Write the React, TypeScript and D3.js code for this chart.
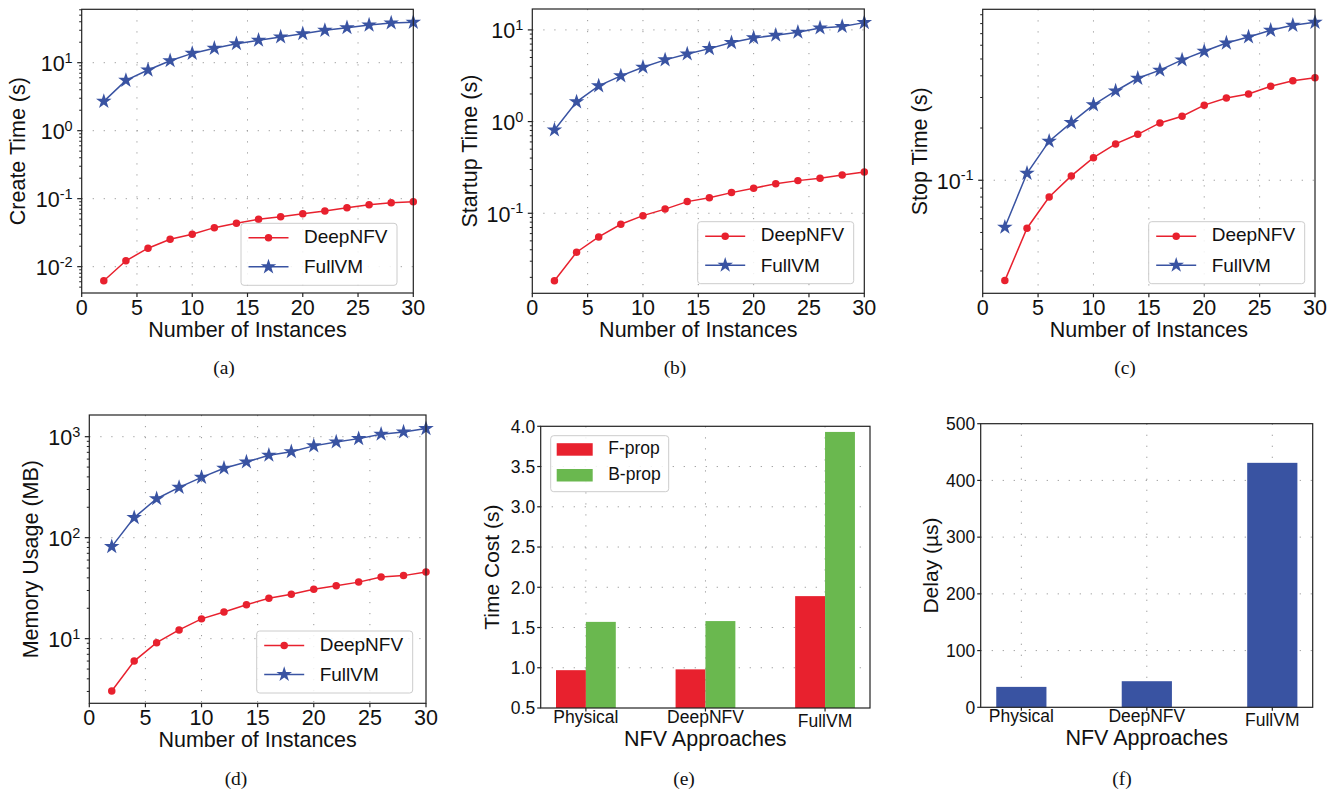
import React from "react";
import * as d3 from "d3";

// ---- data ----
const instances = [2, 4, 6, 8, 10, 12, 14, 16, 18, 20, 22, 24, 26, 28, 30];

const createDeep = [0.0062, 0.0122, 0.0187, 0.0253, 0.03, 0.0375, 0.0435, 0.0498, 0.0543, 0.06, 0.066, 0.0738, 0.0817, 0.0873, 0.09];
const createFull = [2.7, 5.5, 7.8, 10.7, 13.7, 16.3, 19.0, 21.4, 23.9, 26.7, 29.9, 32.7, 35.8, 38.4, 39.3];

const startupDeep = [0.0184, 0.0376, 0.0552, 0.0759, 0.0942, 0.111, 0.134, 0.148, 0.168, 0.1875, 0.21, 0.227, 0.241, 0.262, 0.282];
const startupFull = [0.81, 1.64, 2.45, 3.15, 3.92, 4.71, 5.47, 6.25, 7.27, 8.18, 8.75, 9.43, 10.5, 10.9, 12.0];

const stopDeep = [0.0264, 0.0529, 0.0801, 0.1059, 0.135, 0.162, 0.184, 0.214, 0.234, 0.271, 0.298, 0.314, 0.348, 0.375, 0.39];
const stopFull = [0.0536, 0.1097, 0.168, 0.215, 0.272, 0.327, 0.387, 0.431, 0.494, 0.554, 0.618, 0.67, 0.732, 0.782, 0.814];

const memDeep = [3.03, 6.0, 9.12, 12.2, 15.7, 18.4, 21.7, 25.1, 27.5, 30.9, 33.5, 36.3, 40.8, 42.1, 45.7];
const memFull = [81.5, 158, 243, 315, 396, 487, 562, 655, 711, 811, 888, 957, 1058, 1114, 1203];

const approaches = ["Physical", "DeepNFV", "FullVM"];
const fprop = [0.97, 0.98, 1.89];
const bprop = [1.57, 1.58, 3.93];
const delay = [36, 46, 431];

const xTicks = [0, 5, 10, 15, 20, 25, 30];

const RED = "#e8212e";
const BLUE = "#3953a2";
const GREEN = "#6ab84f";
const SPINE = "#222";
const GRID = "#999";
const SANS = "'Liberation Sans', Arial, Helvetica, sans-serif";
const SERIF = "'Liberation Serif', 'Times New Roman', serif";

type Box = { left: number; top: number; right: number; bottom: number };

const gridProps = { stroke: GRID, strokeWidth: 1, strokeDasharray: "1.2,9.8" };

function LogPanel(props: {
  box: Box;
  yDomain: [number, number];
  deep: number[];
  full: number[];
  yLabel: string;
  yLabelX: number;
  legend: [number, number];
}) {
  const { box, yDomain, deep, full, yLabel, yLabelX, legend } = props;
  const x = d3.scaleLinear().domain([0, 30]).range([box.left, box.right]);
  const y = d3.scaleLog().domain(yDomain).range([box.bottom, box.top]);
  const lo = Math.floor(Math.log10(yDomain[0]));
  const hi = Math.ceil(Math.log10(yDomain[1]));
  const majors: number[] = [];
  const minors: number[] = [];
  for (let e = lo; e <= hi; e++) {
    const v = Math.pow(10, e);
    if (v >= yDomain[0] && v <= yDomain[1]) majors.push(e);
    for (let k = 2; k <= 9; k++) {
      const m = k * v;
      if (m >= yDomain[0] && m <= yDomain[1]) minors.push(m);
    }
  }
  const line = d3
    .line<number>()
    .x((_, i) => x(instances[i]))
    .y((d) => y(d));
  const star = d3.symbol().type(d3.symbolStar).size(75)();
  const dot = d3.symbol().type(d3.symbolCircle).size(44)();
  const [lx, ly] = legend;
  const mid = (box.top + box.bottom) / 2;

  return (
    <g fontFamily={SANS}>
      {xTicks.slice(1, -1).map((t) => (
        <line key={"gx" + t} x1={x(t)} x2={x(t)} y1={box.top} y2={box.bottom} {...gridProps} />
      ))}
      {majors.map((e) => (
        <line key={"gy" + e} x1={box.left} x2={box.right} y1={y(Math.pow(10, e))} y2={y(Math.pow(10, e))} {...gridProps} />
      ))}
      <path d={line(deep) || ""} fill="none" stroke={RED} strokeWidth={1.5} />
      <path d={line(full) || ""} fill="none" stroke={BLUE} strokeWidth={1.5} />
      {deep.map((d, i) => (
        <path key={"d" + i} d={dot || ""} transform={`translate(${x(instances[i])},${y(d)})`} fill={RED} />
      ))}
      {full.map((d, i) => (
        <path key={"f" + i} d={star || ""} transform={`translate(${x(instances[i])},${y(d)})`} fill={BLUE} />
      ))}
      <rect x={box.left} y={box.top} width={box.right - box.left} height={box.bottom - box.top} fill="none" stroke={SPINE} strokeWidth={1.2} />
      {/* x axis */}
      {xTicks.map((t) => (
        <g key={"xt" + t}>
          <line x1={x(t)} x2={x(t)} y1={box.bottom} y2={box.bottom + 4} stroke={SPINE} strokeWidth={1.2} />
          <text x={x(t)} y={box.bottom + 21.5} textAnchor="middle" fontSize={21.5} fill="#111">
            {t}
          </text>
        </g>
      ))}
      <text x={(box.left + box.right) / 2} y={box.bottom + 43.5} textAnchor="middle" fontSize={21.5} fill="#111">
        Number of Instances
      </text>
      {/* y axis */}
      {minors.map((m, i) => (
        <line key={"mn" + i} x1={box.left - 2.5} x2={box.left} y1={y(m)} y2={y(m)} stroke={SPINE} strokeWidth={1} />
      ))}
      {majors.map((e) => {
        const yy = y(Math.pow(10, e));
        return (
          <g key={"yt" + e}>
            <line x1={box.left - 4.5} x2={box.left} y1={yy} y2={yy} stroke={SPINE} strokeWidth={1.2} />
            <text x={box.left - 9} y={yy + 8.5} textAnchor="end" fontSize={21.5} fill="#111">
              <tspan>10</tspan>
              <tspan dy={-8.5} fontSize={14.5}>
                {e < 0 ? "-" + Math.abs(e) : String(e)}
              </tspan>
            </text>
          </g>
        );
      })}
      <text transform={`translate(${yLabelX},${mid}) rotate(-90)`} dy="0.36em" textAnchor="middle" fontSize={21.5} fill="#111">
        {yLabel}
      </text>
      {/* legend */}
      <rect x={lx} y={ly} width={156} height={62} rx={3} fill="white" fillOpacity={0.85} stroke="#ccc" strokeWidth={1} />
      <line x1={lx + 7.5} x2={lx + 47.5} y1={ly + 14.5} y2={ly + 14.5} stroke={RED} strokeWidth={1.5} />
      <path d={dot || ""} transform={`translate(${lx + 27.5},${ly + 14.5})`} fill={RED} />
      <text x={lx + 63} y={ly + 19.5} fontSize={19} fill="#111">DeepNFV</text>
      <line x1={lx + 7.5} x2={lx + 47.5} y1={ly + 43.5} y2={ly + 43.5} stroke={BLUE} strokeWidth={1.5} />
      <path d={star || ""} transform={`translate(${lx + 27.5},${ly + 43.5})`} fill={BLUE} />
      <text x={lx + 63} y={ly + 50} fontSize={19} fill="#111">FullVM</text>
    </g>
  );
}

function BarPanel(props: {
  box: Box;
  xDomain: [number, number];
  yDomain: [number, number];
  yTicks: number[];
  fmt: (v: number) => string;
  series: { values: number[]; color: string; offset: number }[];
  width: number;
  yLabel: string;
  yLabelX: number;
  legend?: { x: number; y: number; items: { label: string; color: string }[] };
}) {
  const { box, xDomain, yDomain, yTicks, fmt, series, width, yLabel, yLabelX, legend } = props;
  const x = d3.scaleLinear().domain(xDomain).range([box.left, box.right]);
  const y = d3.scaleLinear().domain(yDomain).range([box.bottom, box.top]);
  const mid = (box.top + box.bottom) / 2;
  return (
    <g fontFamily={SANS}>
      {approaches.map((_, i) => (
        <line key={"gx" + i} x1={x(i)} x2={x(i)} y1={box.top} y2={box.bottom} {...gridProps} />
      ))}
      {yTicks.slice(1, -1).map((t) => (
        <line key={"gy" + t} x1={box.left} x2={box.right} y1={y(t)} y2={y(t)} {...gridProps} />
      ))}
      {series.map((s, si) =>
        s.values.map((v, i) => (
          <rect
            key={si + "-" + i}
            x={x(i + s.offset)}
            width={x(width) - x(0)}
            y={y(v)}
            height={y(yDomain[0]) - y(v)}
            fill={s.color}
          />
        ))
      )}
      <rect x={box.left} y={box.top} width={box.right - box.left} height={box.bottom - box.top} fill="none" stroke={SPINE} strokeWidth={1.2} />
      {approaches.map((a, i) => (
        <g key={"xt" + i}>
          <line x1={x(i)} x2={x(i)} y1={box.bottom} y2={box.bottom + 3.5} stroke={SPINE} strokeWidth={1.2} />
          <text x={x(i)} y={box.bottom + (a === "FullVM" ? 18.5 : 14.5)} textAnchor="middle" fontSize={17.5} fill="#111">
            {a}
          </text>
        </g>
      ))}
      <text x={(box.left + box.right) / 2} y={box.bottom + 37.5} textAnchor="middle" fontSize={21.5} fill="#111">
        NFV Approaches
      </text>
      {yTicks.map((t) => (
        <g key={"yt" + t}>
          <line x1={box.left - 3.5} x2={box.left} y1={y(t)} y2={y(t)} stroke={SPINE} strokeWidth={1.2} />
          <text x={box.left - 5.5} y={y(t)} dy="0.36em" textAnchor="end" fontSize={17.5} fill="#111">
            {fmt(t)}
          </text>
        </g>
      ))}
      <text transform={`translate(${yLabelX},${mid}) rotate(-90)`} dy="0.36em" textAnchor="middle" fontSize={21} fill="#111">
        {yLabel}
      </text>
      {legend && (
        <g>
          <rect x={legend.x} y={legend.y} width={118} height={56} rx={3} fill="white" fillOpacity={0.85} stroke="#ccc" strokeWidth={1} />
          {legend.items.map((it, i) => (
            <g key={it.label}>
              <rect x={legend.x + 6} y={legend.y + 7.5 + i * 25.8} width={36} height={12.5} fill={it.color} />
              <text x={legend.x + 57.5} y={legend.y + 18 + i * 25.8} fontSize={17.5} fill="#111">
                {it.label}
              </text>
            </g>
          ))}
        </g>
      )}
    </g>
  );
}

function Caption({ x, y, t }: { x: number; y: number; t: string }) {
  return (
    <text x={x} y={y} textAnchor="middle" fontFamily={SERIF} fontSize={19.5} fill="#111">
      {t}
    </text>
  );
}

export default function App() {
  return (
    <svg width={1336} height={791} style={{ position: "absolute", left: 0, top: 0, background: "white" }}>
      <LogPanel
        box={{ left: 81.7, right: 413.3, top: 9.3, bottom: 293 }}
        yDomain={[0.0041, 61]}
        deep={createDeep}
        full={createFull}
        yLabel="Create Time (s)"
        yLabelX={17.5}
        legend={[241, 223.3]}
      />
      <LogPanel
        box={{ left: 532.3, right: 864.3, top: 9, bottom: 293.3 }}
        yDomain={[0.0134, 16.9]}
        deep={startupDeep}
        full={startupFull}
        yLabel="Startup Time (s)"
        yLabelX={469}
        legend={[697.7, 221.7]}
      />
      <LogPanel
        box={{ left: 982.7, right: 1315, top: 9.3, bottom: 293.3 }}
        yDomain={[0.0223, 0.967]}
        deep={stopDeep}
        full={stopFull}
        yLabel="Stop Time (s)"
        yLabelX={919.3}
        legend={[1148.7, 221.7]}
      />
      <LogPanel
        box={{ left: 89.3, right: 426, top: 415, bottom: 703.3 }}
        yDomain={[2.29, 1640]}
        deep={memDeep}
        full={memFull}
        yLabel="Memory Usage (MB)"
        yLabelX={30.7}
        legend={[256.7, 631]}
      />
      <BarPanel
        box={{ left: 540.7, right: 870, top: 426.3, bottom: 708 }}
        xDomain={[-0.378, 2.376]}
        yDomain={[0.5, 4.0]}
        yTicks={[0.5, 1.0, 1.5, 2.0, 2.5, 3.0, 3.5, 4.0]}
        fmt={d3.format(".1f")}
        series={[
          { values: fprop, color: RED, offset: -0.25 },
          { values: bprop, color: GREEN, offset: 0 },
        ]}
        width={0.25}
        yLabel="Time Cost (s)"
        yLabelX={491.7}
        legend={{
          x: 550.7,
          y: 435.7,
          items: [
            { label: "F-prop", color: RED },
            { label: "B-prop", color: GREEN },
          ],
        }}
      />
      <BarPanel
        box={{ left: 980.7, right: 1312.7, top: 423.7, bottom: 707.3 }}
        xDomain={[-0.324, 2.322]}
        yDomain={[0, 500]}
        yTicks={[0, 100, 200, 300, 400, 500]}
        fmt={d3.format("d")}
        series={[{ values: delay, color: BLUE, offset: -0.2 }]}
        width={0.4}
        yLabel="Delay (µs)"
        yLabelX={930.7}
      />
      <Caption x={224} y={374} t="(a)" />
      <Caption x={675} y={374} t="(b)" />
      <Caption x={1125} y={374} t="(c)" />
      <Caption x={236} y={785} t="(d)" />
      <Caption x={684} y={785} t="(e)" />
      <Caption x={1122} y={785} t="(f)" />
    </svg>
  );
}
